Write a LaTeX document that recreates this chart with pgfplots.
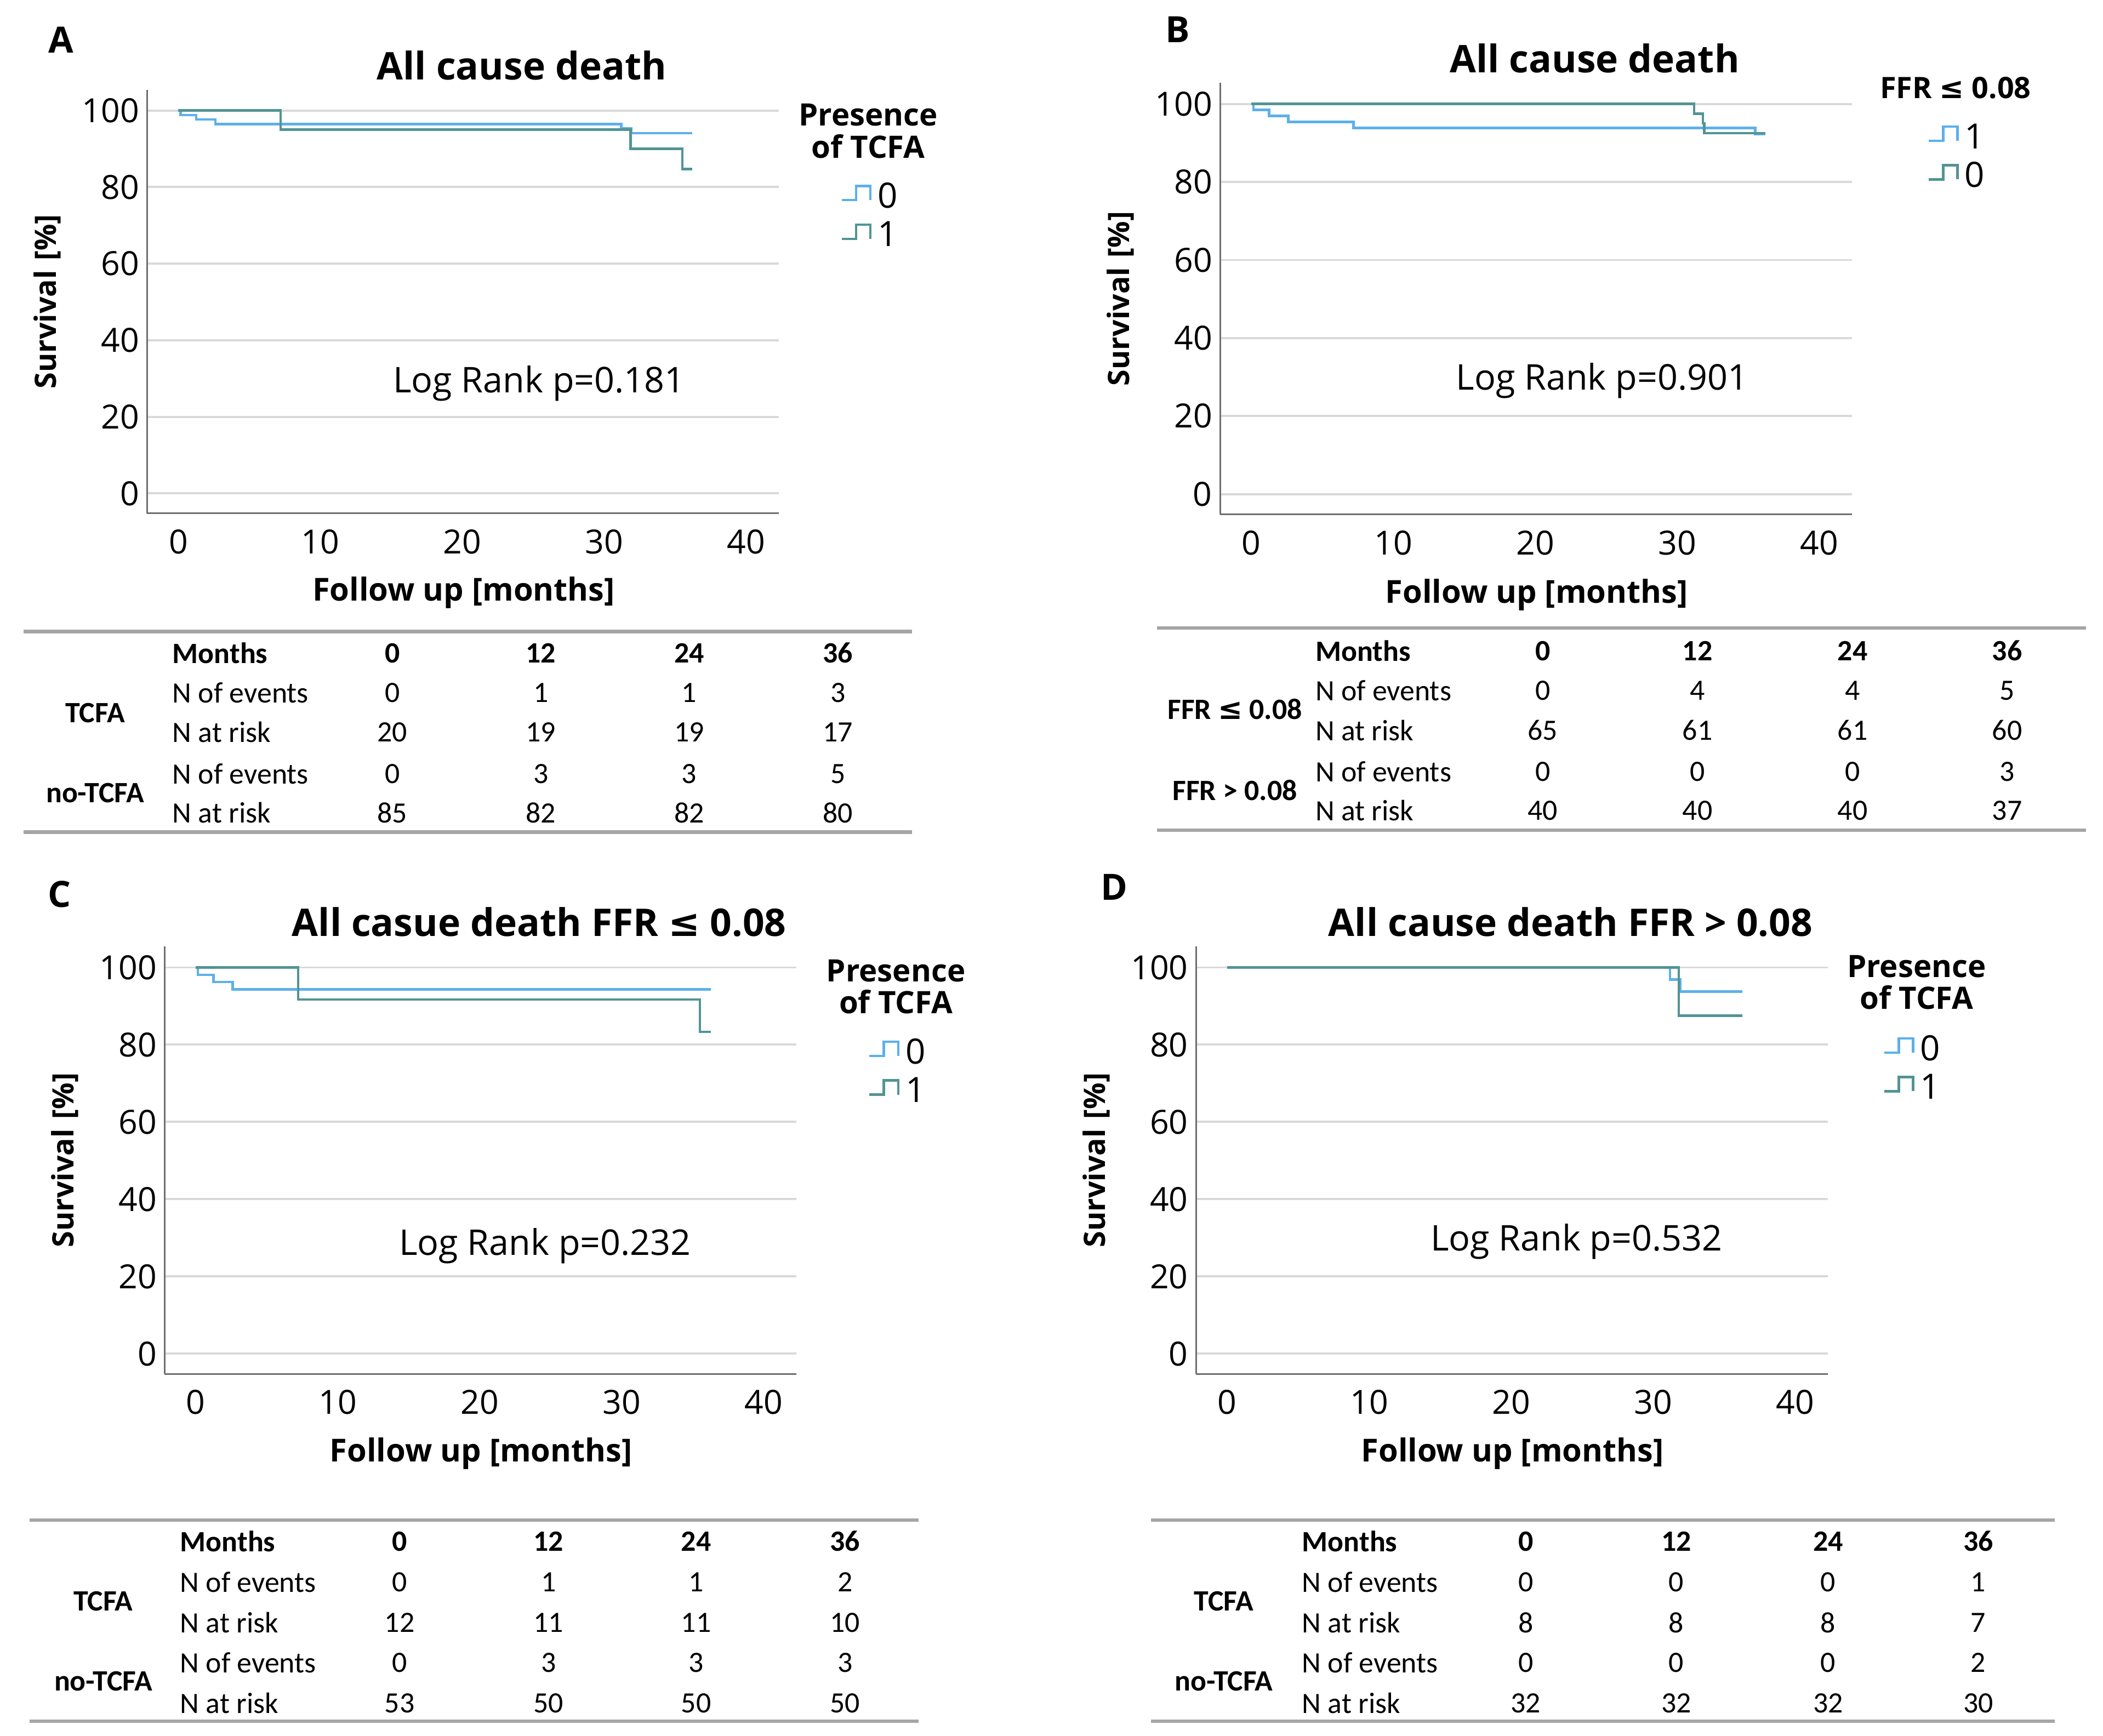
\documentclass[border=0pt]{standalone}
\usepackage{pgfplots}
\pgfplotsset{compat=1.18}
\usepackage{fontspec}
\setmainfont{Open Sans}
\newfontfamily\tblfont{Carlito}
\newfontfamily\dejavu{DejaVu Sans}
\newcommand{\lesym}{{\dejavu ≤}}

\definecolor{kmblue}{RGB}{92,176,235}
\definecolor{kmteal}{RGB}{82,148,148}
\definecolor{gridgray}{RGB}{217,217,217}
\definecolor{axisgray}{RGB}{110,110,110}
\definecolor{tblgray}{RGB}{165,165,165}

\pgfplotsset{
  kmaxis/.style={
    scale only axis, width=235.5pt,
    xmin=-2.2, xmax=42.3, ymin=-5.2, ymax=105.4,
    xtick={0,10,20,30,40}, ytick={0,20,40,60,80,100},
    axis x line*=bottom, axis y line*=left,
    axis line style={axisgray, line width=0.6pt},
    major tick length=0pt,
    ymajorgrids, major grid style={gridgray, line width=0.8pt},
    tick label style={font=\fontsize{12.4}{14}\selectfont},
    xticklabel style={anchor=north, inner sep=0pt, yshift=-5.8pt},
    yticklabel style={anchor=east, inner sep=0pt, xshift=-2.75pt},
    /pgf/number format/assume math mode=true,
    title style={font=\bfseries\fontsize{14.2}{16}\selectfont, at={(0.593,1.057)}, anchor=center, yshift=-6pt},
    xlabel={Follow up [months]}, ylabel={Survival\,\,[\%]},
    xlabel style={font=\bfseries\fontsize{11.8}{14}\selectfont, at={(axis description cs:0.501,-0.187)}, anchor=center},
    ylabel style={font=\bfseries\fontsize{11}{13}\selectfont, at={(axis description cs:-0.158,0.5)}, anchor=center},
    legend image code/.code={\draw[#1, line width=0.9pt] (0pt,2.9pt) -- (5.35pt,2.9pt) -- (5.35pt,8.2pt) -- (10.7pt,8.2pt) -- (10.7pt,2.9pt);},
    legend cell align=left,
    legend style={draw=none, fill=none, inner sep=0pt, outer sep=0pt, anchor=north west,
      row sep=5.1pt, nodes={inner sep=0pt, text height=9.3pt, text depth=0pt},
      cells={anchor=base west},
      font=\fontsize{13}{15}\selectfont,
      /tikz/every odd column/.append style={column sep=2.25pt}},
    every axis plot/.append style={line width=0.9pt},
    clip=false,
  },
}

\tikzset{
  logrank/.style={font=\fontsize{13.2}{15}\selectfont},
  tbl/.style={font=\tblfont\fontsize{11}{13}\selectfont, inner sep=0pt},
}
% one row of a risk table: y, label, four values (uses \rx,\ca,\cb,\cc,\cd)
\newcommand{\trow}[6]{%
  \node[tbl, anchor=west] at (\rx,-#1) {#2};
  \node[tbl] at (\ca,-#1) {#3};
  \node[tbl] at (\cb,-#1) {#4};
  \node[tbl] at (\cc,-#1) {#5};
  \node[tbl] at (\cd,-#1) {#6};}

\begin{document}
\begin{tikzpicture}[x=0.5pt,y=0.5pt]
\useasboundingbox (0,0) rectangle (1568,-1294.6);

%% ---------------- A ----------------
\node[font=\bfseries\fontsize{13.5}{15}\selectfont] at (45.5,-29.9) {A};
\begin{axis}[kmaxis, at={(54.85pt,-191.4pt)}, anchor=south west, height=157.9pt,
  title={All cause death}, legend style={at={(1.0975,0.780)}}]
\addplot[kmblue, const plot] coordinates {(0,100) (0.15,98.82) (1.25,97.65) (2.6,96.47) (31.2,95.29) (31.9,94.12) (36.2,94.12)};
\addlegendentry{0}
\addplot[kmteal, const plot] coordinates {(0,100) (7.2,95.0) (31.85,90.0) (35.5,84.71) (36.2,84.71)};
\addlegendentry{1}
\node[logrank] at (axis cs:25.4,28.7) {Log Rank p=0.181};
\end{axis}
\node[font=\bfseries\fontsize{11.5}{11.9}\selectfont, align=center] at (647.3,-97.75) {Presence\\of TCFA};

\draw[tblgray, line width=1.3pt] (17.6,-471) -- (680,-471);
\draw[tblgray, line width=1.3pt] (17.6,-620.5) -- (680,-620.5);
\def\rx{128.3}\def\ca{292.5}\def\cb{403.2}\def\cc{513.9}\def\cd{624.7}
\trow{487}{\bfseries Months}{\bfseries 0}{\bfseries 12}{\bfseries 24}{\bfseries 36}
\trow{516.5}{N of events}{0}{1}{1}{3}
\trow{546}{N at risk}{20}{19}{19}{17}
\trow{577}{N of events}{0}{3}{3}{5}
\trow{606}{N at risk}{85}{82}{82}{80}
\node[tbl] at (70.9,-531.5) {\bfseries TCFA};
\node[tbl] at (70.9,-591.5) {\bfseries no-TCFA};

%% ---------------- B ----------------
\node[font=\bfseries\fontsize{13.5}{15}\selectfont] at (878,-22) {B};
\begin{axis}[kmaxis, at={(454.85pt,-191.8pt)}, anchor=south west, height=160.9pt,
  title={All cause death}, legend style={at={(1.12,0.9055)}}]
\addplot[kmblue, const plot] coordinates {(0,100) (0.15,98.46) (1.25,96.92) (2.6,95.38) (7.2,93.85) (35.5,92.28) (36.2,92.28)};
\addlegendentry{1}
\addplot[kmteal, const plot] coordinates {(0,100) (31.2,97.5) (31.8,95.0) (31.9,92.5) (36.2,92.5)};
\addlegendentry{0}
\node[logrank] at (axis cs:24.7,29.0) {Log Rank p=0.901};
\end{axis}
\node[font=\bfseries\fontsize{11}{13}\selectfont] at (1458,-65.4) {FFR \lesym\ 0.08};

\draw[tblgray, line width=1.3pt] (862.7,-468.3) -- (1555.4,-468.3);
\draw[tblgray, line width=1.3pt] (862.7,-619) -- (1555.4,-619);
\def\rx{980.4}\def\ca{1150.3}\def\cb{1265.6}\def\cc{1381.3}\def\cd{1496.5}
\trow{485.3}{\bfseries Months}{\bfseries 0}{\bfseries 12}{\bfseries 24}{\bfseries 36}
\trow{514.9}{N of events}{0}{4}{4}{5}
\trow{544.7}{N at risk}{65}{61}{61}{60}
\trow{575.4}{N of events}{0}{0}{0}{3}
\trow{604.4}{N at risk}{40}{40}{40}{37}
\node[tbl] at (920.7,-528.8) {\bfseries FFR \lesym\ 0.08};
\node[tbl] at (920.7,-589.2) {\bfseries FFR > 0.08};

%% ---------------- C ----------------
\node[font=\bfseries\fontsize{13.5}{15}\selectfont] at (44.5,-666.8) {C};
\begin{axis}[kmaxis, at={(61.35pt,-512.25pt)}, anchor=south west, height=159.3pt,
  title={All casue death FFR \lesym\ 0.08}, legend style={at={(1.114,0.784)}}]
\addplot[kmblue, const plot] coordinates {(0,100) (0.15,98.11) (1.25,96.23) (2.6,94.34) (36.3,94.34)};
\addlegendentry{0}
\addplot[kmteal, const plot] coordinates {(0,100) (7.2,91.67) (35.5,83.33) (36.3,83.33)};
\addlegendentry{1}
\node[logrank] at (axis cs:24.6,27.95) {Log Rank p=0.232};
\end{axis}
\node[font=\bfseries\fontsize{11.5}{11.9}\selectfont, align=center] at (668,-736) {Presence\\of TCFA};

\draw[tblgray, line width=1.3pt] (22,-1133.5) -- (685,-1133.5);
\draw[tblgray, line width=1.3pt] (22,-1283.6) -- (685,-1283.6);
\def\rx{134}\def\ca{298}\def\cb{409}\def\cc{519}\def\cd{630}
\trow{1149.4}{\bfseries Months}{\bfseries 0}{\bfseries 12}{\bfseries 24}{\bfseries 36}
\trow{1179.7}{N of events}{0}{1}{1}{2}
\trow{1210}{N at risk}{12}{11}{11}{10}
\trow{1239.8}{N of events}{0}{3}{3}{3}
\trow{1270.1}{N at risk}{53}{50}{50}{50}
\node[tbl] at (77,-1194.2) {\bfseries TCFA};
\node[tbl] at (77,-1253.6) {\bfseries no-TCFA};

%% ---------------- D ----------------
\node[font=\bfseries\fontsize{13.5}{15}\selectfont] at (830.7,-661.6) {D};
\begin{axis}[kmaxis, at={(445.85pt,-512.25pt)}, anchor=south west, height=159.3pt,
  title={All cause death FFR > 0.08}, legend style={at={(1.088,0.792)}}]
\addplot[kmblue, const plot] coordinates {(0,100) (31.2,96.88) (31.9,93.75) (36.3,93.75)};
\addlegendentry{0}
\addplot[kmteal, const plot] coordinates {(0,100) (31.8,87.5) (36.3,87.5)};
\addlegendentry{1}
\node[logrank] at (axis cs:24.6,29.1) {Log Rank p=0.532};
\end{axis}
\node[font=\bfseries\fontsize{11.5}{11.9}\selectfont, align=center] at (1429,-732.7) {Presence\\of TCFA};

\draw[tblgray, line width=1.3pt] (858.2,-1133.5) -- (1532,-1133.5);
\draw[tblgray, line width=1.3pt] (858.2,-1283.6) -- (1532,-1283.6);
\def\rx{970.5}\def\ca{1137.6}\def\cb{1249.9}\def\cc{1363}\def\cd{1475}
\trow{1149.4}{\bfseries Months}{\bfseries 0}{\bfseries 12}{\bfseries 24}{\bfseries 36}
\trow{1179.7}{N of events}{0}{0}{0}{1}
\trow{1210}{N at risk}{8}{8}{8}{7}
\trow{1239.8}{N of events}{0}{0}{0}{2}
\trow{1270.1}{N at risk}{32}{32}{32}{30}
\node[tbl] at (912.5,-1194.2) {\bfseries TCFA};
\node[tbl] at (912.5,-1253.6) {\bfseries no-TCFA};
\end{tikzpicture}
\end{document}
